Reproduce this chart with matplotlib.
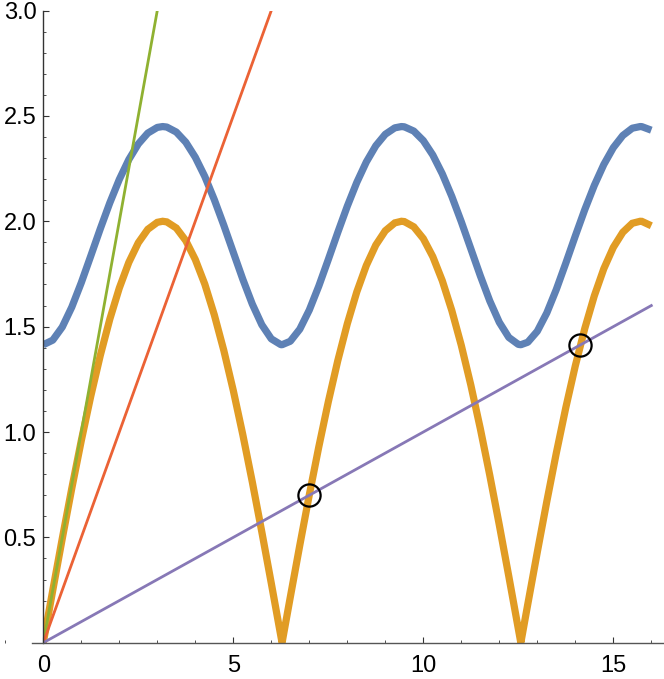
import numpy as np
import matplotlib.pyplot as plt
from matplotlib.patches import Rectangle
from matplotlib.ticker import MultipleLocator, FixedLocator

plt.rcParams['font.family'] = ['Liberation Sans', 'DejaVu Sans']

# sample positions read along the x axis (cusps and peaks included)
x_pts = [0, 0.25, 0.5, 0.75, 1.0, 1.25, 1.5, 1.75, 2.0, 2.25, 2.5, 2.75, 3.0, 3.1416,
         3.25, 3.5, 3.75, 4.0, 4.25, 4.5, 4.75, 5.0, 5.25, 5.5, 5.75, 6.0, 6.25, 6.2832,
         6.5, 6.75, 7.0, 7.25, 7.5, 7.75, 8.0, 8.25, 8.5, 8.75, 9.0, 9.25, 9.4248, 9.5,
         9.75, 10.0, 10.25, 10.5, 10.75, 11.0, 11.25, 11.5, 11.75, 12.0, 12.25, 12.5,
         12.5664, 12.75, 13.0, 13.25, 13.5, 13.75, 14.0, 14.25, 14.5, 14.75, 15.0,
         15.25, 15.5, 15.708, 15.75, 16.0]

# upper (blue) curve
blue_y = [1.4142, 1.4360, 1.4983, 1.5927, 1.7086, 1.8356, 1.9643, 2.0872, 2.1983, 2.2927,
          2.3669, 2.4184, 2.4454, 2.4495, 2.4471, 2.4234, 2.3751, 2.3038, 2.2127, 2.1028,
          1.9811, 1.8528, 1.7250, 1.6071, 1.5090, 1.4421, 1.4146, 1.4142, 1.4307, 1.4880,
          1.5787, 1.6924, 1.8185, 1.9474, 2.0715, 2.1844, 2.2812, 2.3583, 2.4129, 2.4433,
          2.4495, 2.4483, 2.4280, 2.3829, 2.3145, 2.2251, 2.1181, 1.9978, 1.8699, 1.7417,
          1.6218, 1.5206, 1.4489, 1.4158, 1.4142, 1.4261, 1.4782, 1.5651, 1.6764, 1.8014,
          1.9304, 2.0555, 2.1702, 2.2694, 2.3493, 2.4071, 2.4417, 2.4495, 2.4491, 2.4322]

# lower (orange) curve
orange_y = [0.0, 0.2494, 0.4948, 0.7326, 0.9589, 1.1702, 1.3633, 1.5351, 1.6829, 1.8045,
            1.8980, 1.9618, 1.9950, 2.0, 1.9971, 1.9680, 1.9082, 1.8186, 1.7018, 1.5562,
            1.3874, 1.1969, 0.9877, 0.7633, 0.5265, 0.2822, 0.0332, 0.0, 0.2164, 0.4626,
            0.7016, 0.9296, 1.1431, 1.3388, 1.5136, 1.6648, 1.7900, 1.8872, 1.9551, 1.9924,
            2.0, 1.9986, 1.9736, 1.9179, 1.8322, 1.7179, 1.5768, 1.4111, 1.2234, 1.0166,
            0.7939, 0.5588, 0.3151, 0.0664, 0.0, 0.1834, 0.4302, 0.6704, 0.9001, 1.1157,
            1.3140, 1.4917, 1.6462, 1.7749, 1.8760, 1.9478, 1.9905, 2.0, 1.9996, 1.9787]

# straight lines through the origin: (x_end, y_end)
green_end = (3.0, 3.0)
red_end = (6.0, 3.0)
purple_end = (16.0, 1.6)

# marked intersections
circle_x = [7.0, 14.13]
circle_y = [0.70, 1.413]

fig = plt.figure(figsize=(6.64, 6.79), dpi=100)
ax = fig.add_axes([0, 0, 1, 1])
ax.set_xlim(-1.139, 16.334)
ax.set_ylim(-0.172, 3.050)

# plot range is 0..3 in y, curves are cut there
clip = Rectangle((-0.02, 0), 16.5, 3.0, transform=ax.transData)

lines = []
lines += ax.plot(x_pts, blue_y, color='#5E81B5', lw=5.2, solid_capstyle='butt',
                 solid_joinstyle='round', zorder=2)
lines += ax.plot(x_pts, orange_y, color='#E19C24', lw=5.2, solid_capstyle='butt',
                 solid_joinstyle='miter', zorder=3)
lines += ax.plot([0, green_end[0]], [0, green_end[1]], color='#8FB131', lw=2, zorder=4)
lines += ax.plot([0, red_end[0]], [0, red_end[1]], color='#EB6235', lw=2, zorder=4)
lines += ax.plot([0, purple_end[0]], [0, purple_end[1]], color='#8778B6', lw=2, zorder=5)
for ln in lines:
    ln.set_clip_path(clip)
ax.plot(circle_x, circle_y, 'o', ms=16, mfc='none', mec='black', mew=1.6, zorder=6)

for s in ['top', 'right']:
    ax.spines[s].set_visible(False)
ax.spines['left'].set_position(('data', 0))
ax.spines['bottom'].set_position(('data', 0))
ax.spines['left'].set_bounds(0, 3.0)
ax.spines['bottom'].set_bounds(-0.3, 16.334)
ax.spines['left'].set_color('#333333')
ax.spines['bottom'].set_color('#555555')
ax.spines['left'].set_linewidth(1.0)
ax.spines['bottom'].set_linewidth(1.0)
ax.spines['left'].set_zorder(7)
ax.spines['bottom'].set_zorder(7)

ax.xaxis.set_major_locator(FixedLocator([0, 5, 10, 15]))
ax.xaxis.set_minor_locator(MultipleLocator(1))
ax.yaxis.set_major_locator(FixedLocator([0.5, 1.0, 1.5, 2.0, 2.5, 3.0]))
ax.yaxis.set_minor_locator(FixedLocator([v / 10 for v in range(1, 30) if v % 5]))
ax.set_yticklabels(['0.5', '1.0', '1.5', '2.0', '2.5', '3.0'])

ax.tick_params(which='both', direction='in', colors='#333333', labelcolor='black')
ax.tick_params(which='major', length=4.2, width=0.8, labelsize=17)
ax.tick_params(which='minor', length=2.5, width=0.6)
ax.tick_params(axis='x', which='major', pad=9)
ax.tick_params(axis='y', which='major', pad=5)

fig.savefig('out.png', dpi=100)
